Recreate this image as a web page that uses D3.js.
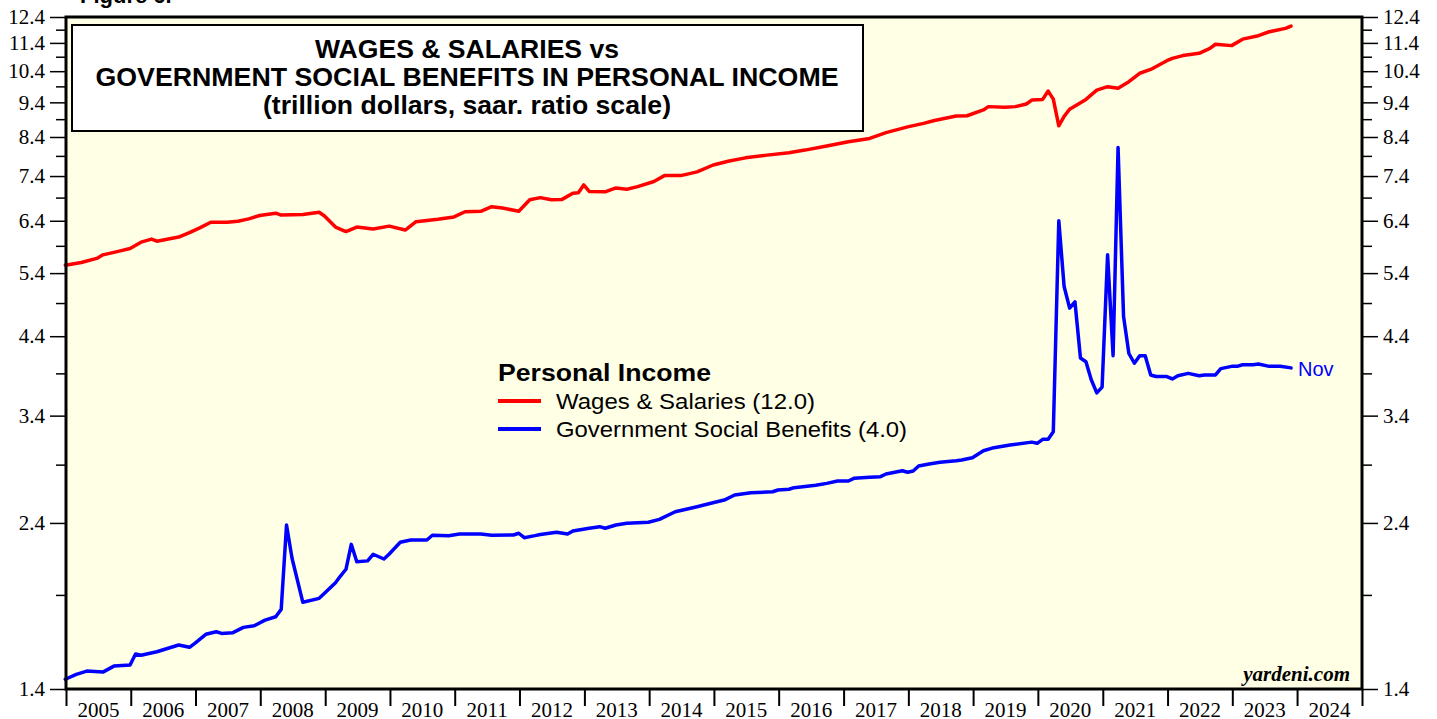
<!DOCTYPE html>
<html>
<head>
<meta charset="utf-8">
<script src="https://cdn.jsdelivr.net/npm/d3@7"></script>
<style>
	body { margin: 0; background: #fff; }
	svg { display: block; }
</style>
</head>
<body>
<div id="chart"></div>
<script>
// wages & salaries, trillion $ saar (month, value)
var wageSeries = [
	["2004-12",5.54],["2005-03",5.59],["2005-06",5.67],["2005-07",5.73],["2005-10",5.80],["2005-12",5.85],
	["2006-02",5.97],["2006-04",6.03],["2006-05",5.99],["2006-09",6.07],["2006-11",6.16],
	["2007-01",6.26],["2007-03",6.37],["2007-06",6.37],["2007-08",6.39],["2007-10",6.44],["2007-12",6.51],
	["2008-03",6.56],["2008-04",6.52],["2008-08",6.53],["2008-11",6.58],["2008-12",6.50],
	["2009-02",6.27],["2009-04",6.18],["2009-06",6.27],["2009-09",6.23],["2009-12",6.29],
	["2010-03",6.21],["2010-05",6.38],["2010-09",6.43],["2010-12",6.48],
	["2011-02",6.59],["2011-05",6.60],["2011-07",6.70],["2011-09",6.67],["2011-12",6.60],
	["2012-02",6.85],["2012-04",6.90],["2012-06",6.85],["2012-08",6.86],["2012-10",7.00],["2012-11",7.01],["2012-12",7.19],
	["2013-01",7.04],["2013-04",7.03],["2013-06",7.12],["2013-08",7.09],["2013-10",7.15],
	["2014-01",7.27],["2014-03",7.41],["2014-06",7.41],["2014-09",7.50],["2014-12",7.67],
	["2015-03",7.77],["2015-06",7.85],["2015-10",7.92],
	["2016-02",7.98],["2016-05",8.05],["2016-09",8.16],
	["2017-01",8.27],["2017-05",8.36],["2017-08",8.52],["2017-12",8.68],
	["2018-03",8.78],["2018-05",8.86],["2018-09",8.99],["2018-11",9.00],
	["2019-02",9.17],["2019-03",9.27],["2019-06",9.25],["2019-08",9.27],["2019-10",9.35],["2019-11",9.47],
	["2020-01",9.49],["2020-02",9.75],["2020-03",9.50],["2020-04",8.71],["2020-05",8.98],["2020-06",9.19],["2020-09",9.49],["2020-11",9.78],
	["2021-01",9.89],["2021-03",9.84],["2021-05",10.05],["2021-07",10.33],["2021-09",10.46],["2021-12",10.76],
	["2022-01",10.84],["2022-03",10.94],["2022-06",11.02],["2022-08",11.20],["2022-09",11.35],["2022-12",11.30],
	["2023-02",11.54],["2023-05",11.67],["2023-07",11.82],["2023-10",11.95],["2023-11",12.04]
];

// government social benefits, trillion $ saar (month, value)
var benefitSeries = [
	["2004-12",1.445],["2005-02",1.468],["2005-04",1.484],["2005-07",1.479],["2005-09",1.508],["2005-12",1.513],
	["2006-01",1.568],["2006-02",1.562],["2006-05",1.580],["2006-09",1.615],["2006-11",1.603],["2006-12",1.624],
	["2007-02",1.672],["2007-04",1.686],["2007-05",1.677],["2007-07",1.680],["2007-09",1.710],["2007-11",1.719],
	["2008-01",1.751],["2008-03",1.770],["2008-04",1.813],["2008-05",2.384],["2008-06",2.140],["2008-08",1.855],["2008-11",1.879],["2008-12",1.910],
	["2009-02",1.977],["2009-03",2.020],["2009-04",2.065],["2009-05",2.239],["2009-06",2.116],["2009-08",2.122],["2009-09",2.168],["2009-11",2.135],["2009-12",2.170],
	["2010-02",2.254],["2010-04",2.271],["2010-07",2.271],["2010-08",2.306],["2010-11",2.303],
	["2011-01",2.315],["2011-05",2.315],["2011-07",2.306],["2011-11",2.308],["2011-12",2.321],
	["2012-01",2.288],["2012-03",2.303],["2012-04",2.312],["2012-07",2.328],["2012-09",2.315],["2012-10",2.338],
	["2013-01",2.359],["2013-03",2.371],["2013-04",2.359],["2013-06",2.384],["2013-08",2.397],["2013-12",2.405],
	["2014-02",2.428],["2014-05",2.489],["2014-09",2.530],["2014-11",2.552],
	["2015-02",2.585],["2015-04",2.628],["2015-07",2.647],["2015-11",2.656],["2015-12",2.671],
	["2016-02",2.677],["2016-03",2.691],["2016-07",2.712],["2016-09",2.729],["2016-11",2.750],
	["2017-01",2.750],["2017-02",2.774],["2017-05",2.783],["2017-07",2.789],["2017-08",2.813],["2017-11",2.843],["2017-12",2.829],
	["2018-01",2.840],["2018-02",2.887],["2018-04",2.906],["2018-06",2.922],["2018-09",2.937],["2018-10",2.944],["2018-12",2.966],
	["2019-02",3.034],["2019-04",3.064],["2019-07",3.091],["2019-11",3.120],["2019-12",3.108],
	["2020-01",3.148],["2020-02",3.150],["2020-03",3.227],["2020-04",6.40],["2020-05",5.17],["2020-06",4.82],["2020-07",4.92],
	["2020-08",4.10],["2020-09",4.05],["2020-10",3.82],["2020-11",3.66],["2020-12",3.73],
	["2021-01",5.73],["2021-02",4.13],["2021-03",8.12],["2021-04",4.69],["2021-05",4.16],["2021-06",4.03],["2021-07",4.13],["2021-08",4.13],
	["2021-09",3.88],["2021-10",3.86],["2021-12",3.86],
	["2022-01",3.83],["2022-02",3.87],["2022-04",3.90],["2022-06",3.87],["2022-07",3.88],["2022-09",3.88],["2022-10",3.96],["2022-12",3.99],
	["2023-01",3.99],["2023-02",4.01],["2023-04",4.01],["2023-05",4.02],["2023-07",3.99],["2023-09",3.99],["2023-11",3.97]
];

var years = d3.range(2005, 2025);
var majorTicks = [1.4, 2.4, 3.4, 4.4, 5.4, 6.4, 7.4, 8.4, 9.4, 10.4, 11.4, 12.4];
var minorTicks = [1.9, 2.9, 3.9, 4.9, 5.9, 6.9, 7.9, 8.9, 9.9, 10.9, 11.9];
var titleLines = ["WAGES & SALARIES vs", "GOVERNMENT SOCIAL BENEFITS IN PERSONAL INCOME", "(trillion dollars, saar. ratio scale)"];
var legendItems = [
	{ name: "Wages & Salaries (12.0)", color: "#ff0000" },
	{ name: "Government Social Benefits (4.0)", color: "#0000ff" }
];

var conf = { width: 1437, height: 719, left: 66, right: 1362, top: 17, bottom: 689 };
var serif = "'Liberation Serif', 'Times New Roman', serif";
var sans = "'Liberation Sans', Arial, sans-serif";
var narrow = "'Liberation Sans Narrow', 'Arial Narrow', 'Liberation Sans', Arial, sans-serif";

var parseMonth = d3.timeParse("%Y-%m");
var toPoint = function(d) {
	// monthly values are drawn at the end of their month
	return { date: d3.timeDay.offset(parseMonth(d[0]), 27), value: d[1] };
};

var x = d3.scaleTime()
	.domain([new Date(2005, 0, 1), new Date(2025, 0, 1)])
	.range([conf.left, conf.right]);

var y = d3.scaleLog()
	.domain([1.4, 12.4])
	.range([conf.bottom, conf.top]);

var $svg = d3.select("#chart").append("svg")
	.attr("width", conf.width)
	.attr("height", conf.height);

// figure caption, mostly cut off at the top
$svg.append("text")
	.attr("x", 80)
	.attr("y", 3)
	.style("font-family", sans)
	.style("font-weight", "bold")
	.style("font-size", "22px")
	.text("Figure 6.");

$svg.append("rect")
	.attr("x", conf.left)
	.attr("y", conf.top)
	.attr("width", conf.right - conf.left)
	.attr("height", conf.bottom - conf.top)
	.attr("fill", "#ffffe6");

// y axes, left and right
var styleAxis = function(g) {
	g.select(".domain").remove();
	g.selectAll("line").attr("stroke", "#000").attr("stroke-width", 1.5);
	g.selectAll("text")
		.attr("fill", "#000")
		.style("font-family", serif)
		.style("font-size", "21px");
};

$svg.append("g")
	.attr("transform", "translate(" + conf.left + ",0)")
	.call(d3.axisLeft(y).tickValues(minorTicks).tickSize(10).tickFormat(""))
	.call(styleAxis);
$svg.append("g")
	.attr("transform", "translate(" + conf.left + ",0)")
	.call(d3.axisLeft(y).tickValues(majorTicks).tickSize(16).tickPadding(5).tickFormat(d3.format(".1f")))
	.call(styleAxis);
$svg.append("g")
	.attr("transform", "translate(" + conf.right + ",0)")
	.call(d3.axisRight(y).tickValues(minorTicks).tickSize(10).tickFormat(""))
	.call(styleAxis);
$svg.append("g")
	.attr("transform", "translate(" + conf.right + ",0)")
	.call(d3.axisRight(y).tickValues(majorTicks).tickSize(16).tickPadding(5).tickFormat(d3.format(".1f")))
	.call(styleAxis);

// x axis: ticks at year boundaries, labels centred in each year
var yearBounds = years.concat([2025]).map(function(yr) { return new Date(yr, 0, 1); });
$svg.append("g")
	.attr("transform", "translate(0," + conf.bottom + ")")
	.call(d3.axisBottom(x).tickValues(yearBounds).tickSize(17).tickFormat(""))
	.call(function(g) {
		g.select(".domain").remove();
		g.selectAll("line").attr("stroke", "#000").attr("stroke-width", 2);
	});

$svg.append("g").selectAll("text.year")
	.data(years)
	.enter()
	.append("text")
	.attr("class", "year")
	.attr("x", function(d) { return (x(new Date(d, 0, 1)) + x(new Date(d + 1, 0, 1))) / 2; })
	.attr("y", 717)
	.attr("text-anchor", "middle")
	.style("font-family", serif)
	.style("font-size", "21px")
	.text(function(d) { return d; });

// series
var line = d3.line()
	.x(function(d) { return x(d.date); })
	.y(function(d) { return y(d.value); })
	.curve(d3.curveLinear);

$svg.append("path")
	.datum(wageSeries.map(toPoint))
	.attr("d", line)
	.attr("fill", "none")
	.attr("stroke", "#ff0000")
	.attr("stroke-width", 3.5)
	.attr("stroke-linejoin", "round")
	.attr("stroke-linecap", "round");

var benefitPoints = benefitSeries.map(toPoint);
$svg.append("path")
	.datum(benefitPoints)
	.attr("d", line)
	.attr("fill", "none")
	.attr("stroke", "#0000ff")
	.attr("stroke-width", 3.5)
	.attr("stroke-linejoin", "round")
	.attr("stroke-linecap", "round");

var lastBenefit = benefitPoints[benefitPoints.length - 1];
$svg.append("text")
	.attr("x", x(lastBenefit.date) + 7)
	.attr("y", y(lastBenefit.value) + 8)
	.attr("fill", "#0000ff")
	.style("font-family", sans)
	.style("font-size", "20px")
	.text("Nov");

// plot frame
$svg.append("rect")
	.attr("x", conf.left)
	.attr("y", conf.top)
	.attr("width", conf.right - conf.left)
	.attr("height", conf.bottom - conf.top)
	.attr("fill", "none")
	.attr("stroke", "#000")
	.attr("stroke-width", 3);

// title box
$svg.append("rect")
	.attr("x", 72)
	.attr("y", 25)
	.attr("width", 791)
	.attr("height", 106)
	.attr("fill", "#fff")
	.attr("stroke", "#000")
	.attr("stroke-width", 2);

var titleWidths = [304, 743, 408];
$svg.append("g").selectAll("text")
	.data(titleLines)
	.enter()
	.append("text")
	.attr("x", 467)
	.attr("y", function(d, i) { return 58 + i * 28; })
	.attr("text-anchor", "middle")
	.attr("textLength", function(d, i) { return titleWidths[i]; })
	.attr("lengthAdjust", "spacingAndGlyphs")
	.style("font-family", narrow)
	.style("font-weight", "bold")
	.style("font-size", "25px")
	.text(function(d) { return d; });

// legend
var $legend = $svg.append("g").attr("transform", "translate(498,0)");
$legend.append("text")
	.attr("x", 0)
	.attr("y", 381)
	.attr("textLength", 213)
	.attr("lengthAdjust", "spacingAndGlyphs")
	.style("font-family", sans)
	.style("font-weight", "bold")
	.style("font-size", "23px")
	.text("Personal Income");

var legendWidths = [259, 351];
var $items = $legend.selectAll("g.item")
	.data(legendItems)
	.enter()
	.append("g")
	.attr("class", "item")
	.attr("transform", function(d, i) { return "translate(0," + (401 + i * 28) + ")"; });
$items.append("line")
	.attr("x1", 0)
	.attr("x2", 43)
	.attr("y1", 0)
	.attr("y2", 0)
	.attr("stroke", function(d) { return d.color; })
	.attr("stroke-width", 4);
$items.append("text")
	.attr("x", 58)
	.attr("y", 8)
	.attr("textLength", function(d, i) { return legendWidths[i]; })
	.attr("lengthAdjust", "spacingAndGlyphs")
	.style("font-family", sans)
	.style("font-size", "22px")
	.text(function(d) { return d.name; });

$svg.append("text")
	.attr("x", 1350)
	.attr("y", 681)
	.attr("text-anchor", "end")
	.style("font-family", serif)
	.style("font-weight", "bold")
	.style("font-style", "italic")
	.style("font-size", "21px")
	.text("yardeni.com");
</script>
</body>
</html>
